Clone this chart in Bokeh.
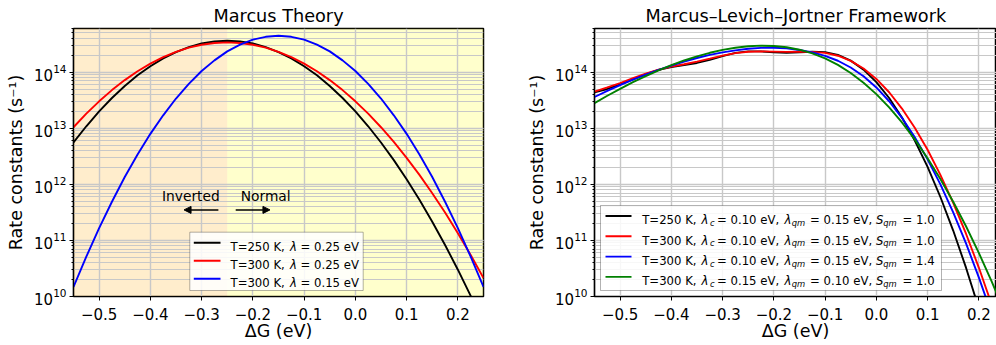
from bokeh.plotting import figure
from bokeh.models import (Range1d, FixedTicker, CustomJSTickFormatter, BoxAnnotation,
                          Label, Arrow, NormalHead)
from bokeh.layouts import row
from bokeh.embed import file_html
from bokeh.resources import INLINE

# ---------------- data ----------------
delta_G = [-0.55, -0.525, -0.5, -0.475, -0.45, -0.425, -0.4, -0.375, -0.35, -0.325,
           -0.3, -0.275, -0.25, -0.225, -0.2, -0.175, -0.15, -0.125, -0.1, -0.075,
           -0.05, -0.025, 0.0, 0.025, 0.05, 0.075, 0.1, 0.125, 0.15, 0.175, 0.2, 0.225, 0.25]

# log10 of the rate constant (s^-1), Marcus theory
marcus_T250_lam025 = [12.746, 13.035, 13.300, 13.539, 13.754, 13.943, 14.106, 14.245, 14.358, 14.447,
                      14.510, 14.547, 14.560, 14.547, 14.510, 14.447, 14.358, 14.245, 14.106, 13.943,
                      13.754, 13.539, 13.300, 13.035, 12.746, 12.431, 12.090, 11.725, 11.334, 10.919,
                      10.478, 10.011, 9.520]
marcus_T300_lam025 = [13.018, 13.260, 13.480, 13.680, 13.858, 14.016, 14.152, 14.268, 14.362, 14.436,
                      14.488, 14.520, 14.530, 14.520, 14.488, 14.436, 14.362, 14.268, 14.152, 14.016,
                      13.858, 13.680, 13.480, 13.260, 13.018, 12.756, 12.472, 12.168, 11.842, 11.496,
                      11.128, 10.740, 10.330]
marcus_T300_lam015 = [10.17, 10.71, 11.22, 11.69, 12.13, 12.53, 12.90, 13.23, 13.53, 13.79,
                      14.02, 14.21, 14.37, 14.49, 14.58, 14.63, 14.65, 14.63, 14.58, 14.49,
                      14.37, 14.21, 14.02, 13.79, 13.53, 13.23, 12.90, 12.53, 12.13, 11.69,
                      11.22, 10.71, 10.17]

# log10 of the rate constant (s^-1), Marcus-Levich-Jortner
mlj_1 = [13.640, 13.700, 13.780, 13.870, 13.965, 14.040, 14.090, 14.127, 14.164, 14.220,
         14.287, 14.343, 14.371, 14.370, 14.354, 14.344, 14.352, 14.364, 14.357, 14.307,
         14.205, 14.045, 13.823, 13.539, 13.192, 12.782, 12.310, 11.774, 11.176, 10.514,
         9.790, 9.000, 8.160]
mlj_2 = [13.654, 13.727, 13.806, 13.892, 13.974, 14.043, 14.098, 14.141, 14.187, 14.240,
         14.294, 14.339, 14.364, 14.370, 14.366, 14.362, 14.363, 14.361, 14.343, 14.293,
         14.202, 14.065, 13.879, 13.641, 13.351, 13.010, 12.616, 12.169, 11.671, 11.119,
         10.516, 9.859, 9.151]
mlj_3 = [13.557, 13.665, 13.768, 13.865, 13.956, 14.040, 14.118, 14.189, 14.252, 14.307,
         14.353, 14.389, 14.416, 14.432, 14.435, 14.423, 14.396, 14.353, 14.290, 14.203,
         14.083, 13.926, 13.727, 13.481, 13.186, 12.841, 12.445, 11.998, 11.498, 10.946,
         10.342, 9.686, 8.977]
mlj_4 = [13.448, 13.579, 13.703, 13.821, 13.930, 14.032, 14.125, 14.208, 14.282, 14.345,
         14.396, 14.435, 14.461, 14.472, 14.466, 14.443, 14.400, 14.334, 14.245, 14.129,
         13.986, 13.812, 13.608, 13.372, 13.103, 12.801, 12.465, 12.095, 11.690, 11.252,
         10.778, 10.270, 9.727]

x_ticks = [-0.5, -0.4, -0.3, -0.2, -0.1, 0.0, 0.1, 0.2]
marcus_T = ["250", "300", "300"]
marcus_lambda = ["0.25", "0.25", "0.15"]
mlj_T = ["250", "300", "300", "300"]
mlj_lambda_c = ["0.10", "0.10", "0.10", "0.15"]
mlj_lambda_qm = ["0.15", "0.15", "0.15", "0.10"]
mlj_S_qm = ["1.0", "1.0", "1.4", "1.0"]
inverted_boundary = -0.25

# ---------------- style ----------------
FONT = "DejaVu Sans"
left_colors = ["black", "red", "blue"]
right_colors = ["black", "red", "blue", "green"]
LW = 1.9
LEG_FS = 11.7


def to_k(vals):
    return [10 ** v for v in vals]


def make_fig(title, x_end, width, mb_left, mb_right):
    p = figure(width=width, height=345, x_range=Range1d(-0.55, x_end),
               y_range=Range1d(1e10, 6e14), y_axis_type="log",
               output_backend="svg", toolbar_location=None,
               min_border_left=mb_left, min_border_right=mb_right,
               min_border_top=28, min_border_bottom=49)
    p.title.text = title
    p.title.text_font = FONT
    p.title.text_font_size = "17.7px"
    p.title.text_font_style = "normal"
    p.title.text_color = "black"
    p.title.standoff = 5
    p.outline_line_color = "black"
    p.outline_line_width = 1.5
    p.background_fill_color = "white"
    p.border_fill_color = "white"

    p.xaxis.ticker = FixedTicker(ticks=x_ticks)
    p.xaxis.formatter = CustomJSTickFormatter(
        code="return (tick < -1e-9 ? '\\u2212' : '') + Math.abs(tick).toFixed(1);")
    p.xaxis.axis_label = "ΔG (eV)"
    p.yaxis.axis_label = "Rate constants (s⁻¹)"
    for ax in (p.xaxis, p.yaxis):
        ax.axis_label_text_font = FONT
        ax.axis_label_text_font_size = "17.5px"
        ax.axis_label_text_font_style = "normal"
        ax.axis_label_text_color = "black"
        ax.major_label_text_font = FONT
        ax.major_label_text_font_size = "15px"
        ax.major_label_text_color = "black"
        ax.major_tick_out = 4
        ax.major_tick_in = 0
        ax.major_tick_line_color = "black"
        ax.minor_tick_line_color = "black"
        ax.axis_line_color = "black"
        ax.axis_line_width = 1.2
    p.xaxis.minor_tick_line_color = None
    p.yaxis.minor_tick_out = 2
    p.yaxis.minor_tick_in = 0
    p.xaxis.major_label_standoff = 7
    p.yaxis.major_label_standoff = 3
    p.xaxis.axis_label_standoff = -2
    p.yaxis.axis_label_standoff = 5

    p.xgrid.ticker = FixedTicker(ticks=x_ticks)
    p.xgrid.grid_line_color = "#c8c8c8"
    p.xgrid.grid_line_width = 1.4
    p.ygrid.grid_line_color = "#c8c8c8"
    p.ygrid.grid_line_width = 1.4
    p.ygrid.minor_grid_line_color = "#c8c8c8"
    p.ygrid.minor_grid_line_width = 1.0
    return p


def screen_label(p, x, y, text, size=LEG_FS, style="normal"):
    p.add_layout(Label(x=x, y=y, x_units="screen", y_units="screen", text=text,
                       text_font=FONT, text_font_size=f"{size}px", text_font_style=style,
                       text_color="black", text_align="left", text_baseline="alphabetic"))


# ---------------- left panel: Marcus theory ----------------
p1 = make_fig("Marcus Theory", 0.25, 521, 73, 38)
p1.title.align = "center"
p1.add_layout(BoxAnnotation(right=inverted_boundary, fill_color="orange", fill_alpha=0.2,
                            line_color=None, level="image"))
p1.add_layout(BoxAnnotation(left=inverted_boundary, fill_color="yellow", fill_alpha=0.2,
                            line_color=None, level="image"))

for series, col in zip([marcus_T250_lam025, marcus_T300_lam025, marcus_T300_lam015], left_colors):
    p1.line(delta_G, to_k(series), line_color=col, line_width=LW)

p1.add_layout(Label(x=-0.321, y=6.1e11, text="Inverted", text_font=FONT, text_font_size="13.8px",
                    text_align="center", text_baseline="middle", text_color="black"))
p1.add_layout(Label(x=-0.175, y=6.1e11, text="Normal", text_font=FONT, text_font_size="13.8px",
                    text_align="center", text_baseline="middle", text_color="black"))
p1.add_layout(Arrow(x_start=-0.2673, y_start=3.5e11, x_end=-0.3343, y_end=3.5e11,
                    line_color="black", line_width=1.5,
                    end=NormalHead(size=7, fill_color="black", line_color="black")))
p1.add_layout(Arrow(x_start=-0.2335, y_start=3.5e11, x_end=-0.1667, y_end=3.5e11,
                    line_color="black", line_width=1.5,
                    end=NormalHead(size=7, fill_color="black", line_color="black")))

# legend (left)
p1.add_layout(BoxAnnotation(left=116.3, right=289.7, bottom=6, top=64.3,
                            left_units="screen", right_units="screen",
                            bottom_units="screen", top_units="screen",
                            fill_color="white", fill_alpha=0.85, line_color="black",
                            line_width=1))
left_rows = [53.7, 35.7, 17.7]
for i, (T, lam, col) in enumerate(zip(marcus_T, marcus_lambda, left_colors)):
    yr = left_rows[i]
    p1.add_layout(Arrow(x_start=120.3, y_start=yr, x_end=147, y_end=yr,
                        start_units="screen", end_units="screen", end=None,
                        line_color=col, line_width=LW))
    yb = yr - 4.3
    screen_label(p1, 157, yb, f"T={T} K,")
    screen_label(p1, 216.5, yb, "λ", style="italic")
    screen_label(p1, 227, yb, f"= {lam} eV")

# ---------------- right panel: MLJ ----------------
p2 = make_fig("Marcus–Levich–Jortner Framework", 0.2345, 475, 73, 0)
p2.title.align = "left"
p2.title.offset = 51

for series, col in zip([mlj_1, mlj_2, mlj_3, mlj_4], right_colors):
    p2.line(delta_G, to_k(series), line_color=col, line_width=LW)

p2.add_layout(BoxAnnotation(left=6, right=347, bottom=6, top=91,
                            left_units="screen", right_units="screen",
                            bottom_units="screen", top_units="screen",
                            fill_color="white", fill_alpha=0.85, line_color="black",
                            line_width=1))
right_rows = [80.5, 60.2, 39.9, 19.6]
SUB = 8.4
for i, col in enumerate(right_colors):
    yr = right_rows[i]
    p2.add_layout(Arrow(x_start=11, y_start=yr, x_end=37, y_end=yr,
                        start_units="screen", end_units="screen", end=None,
                        line_color=col, line_width=LW))
    yb = yr - 4.3
    ys = yb - 2.6
    screen_label(p2, 47.7, yb, f"T={mlj_T[i]} K,")
    screen_label(p2, 107, yb, "λ", style="italic")
    screen_label(p2, 115.5, ys, "c", size=SUB, style="italic")
    screen_label(p2, 122.5, yb, f"= {mlj_lambda_c[i]} eV,")
    screen_label(p2, 190, yb, "λ", style="italic")
    screen_label(p2, 197.3, ys, "qm", size=SUB, style="italic")
    screen_label(p2, 215.5, yb, f"= {mlj_lambda_qm[i]} eV,")
    screen_label(p2, 281.5, yb, "S", style="italic")
    screen_label(p2, 288.7, ys, "qm", size=SUB, style="italic")
    screen_label(p2, 308, yb, f"= {mlj_S_qm[i]}")

layout = row(p1, p2)
open("out.html", "w").write(file_html(layout, INLINE))
